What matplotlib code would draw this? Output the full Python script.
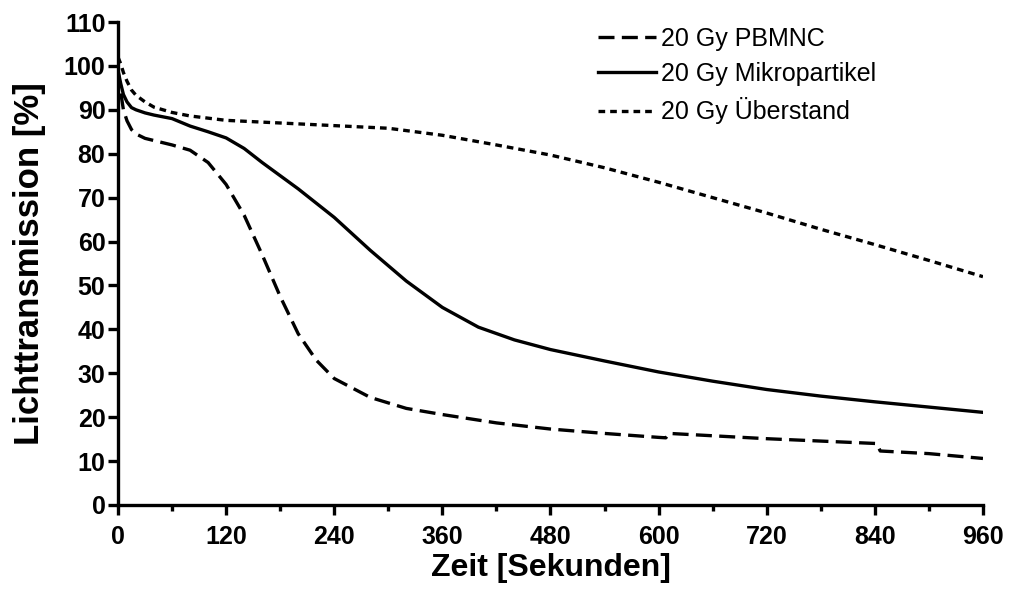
import numpy as np
import matplotlib
matplotlib.use("Agg")
import matplotlib.pyplot as plt
from matplotlib.ticker import MultipleLocator

plt.rcParams['font.family'] = ['Liberation Sans', 'DejaVu Sans']

# Zeit [s] und Lichttransmission [%]
t_pbmnc = [0, 3, 6, 10, 15, 20, 30, 40, 60, 80, 100, 120, 140, 160, 180, 200, 220, 240,
           280, 320, 360, 420, 480, 540, 600, 608, 612, 720, 842, 846, 900, 960]
y_pbmnc = [99, 94, 90, 87.5, 85.5, 84.5, 83.5, 83, 82, 80.8, 78, 73, 66, 57, 47.5, 39,
           33, 28.8, 24.5, 22, 20.6, 18.7, 17.3, 16.3, 15.4, 15.3, 16.3, 15.1, 14, 12.3, 11.7, 10.6]

t_mikro = [0, 3, 6, 10, 15, 20, 30, 40, 60, 80, 100, 120, 140, 160, 180, 200, 240,
           280, 320, 360, 400, 440, 480, 540, 600, 660, 720, 780, 840, 900, 960]
y_mikro = [99, 96, 93.5, 91.8, 90.5, 90, 89.3, 88.8, 88, 86.3, 85, 83.6, 81.2, 78, 75,
           72, 65.5, 58, 51, 45, 40.5, 37.6, 35.4, 32.8, 30.3, 28.2, 26.3, 24.8, 23.5, 22.3, 21.1]

t_ueber = [0, 3, 6, 10, 15, 20, 30, 40, 60, 80, 120, 180, 240, 300, 360, 420, 480, 540,
           600, 660, 720, 780, 840, 900, 960]
y_ueber = [102, 100.5, 98.5, 96.5, 94.5, 93.3, 91.8, 90.6, 89.4, 88.6, 87.6, 87, 86.4,
           85.8, 84.2, 82, 79.7, 76.8, 73.5, 70, 66.5, 62.8, 59.3, 55.7, 52]

fig = plt.figure(figsize=(10.12, 5.93), dpi=100)
ax = fig.add_axes([0.1166, 0.1484, 0.8547, 0.8145])

lw = 2.4
ax.plot(t_pbmnc, y_pbmnc, color='black', lw=lw, dashes=(4.8, 2.2), label='20 Gy PBMNC')
ax.plot(t_mikro, y_mikro, color='black', lw=lw, label='20 Gy Mikropartikel')
ax.plot(t_ueber, y_ueber, color='black', lw=lw, dashes=(2.0, 1.5), label='20 Gy Überstand')

ax.set_xlim(0, 960)
ax.set_ylim(0, 110)
ax.xaxis.set_major_locator(MultipleLocator(120))
ax.xaxis.set_minor_locator(MultipleLocator(60))
ax.yaxis.set_major_locator(MultipleLocator(10))

for s in ['top', 'right']:
    ax.spines[s].set_visible(False)
for s in ['left', 'bottom']:
    ax.spines[s].set_linewidth(lw)
ax.tick_params(which='major', length=7.5, width=lw, labelsize=18)
ax.tick_params(axis='x', which='major', pad=7)
ax.tick_params(axis='y', which='major', pad=1.5)
ax.tick_params(which='minor', length=4, width=lw)
for lab in ax.get_xticklabels() + ax.get_yticklabels():
    lab.set_fontweight('bold')

ax.set_xlabel('Zeit [Sekunden]', fontsize=23, fontweight='bold', labelpad=3)
ax.set_ylabel('Lichttransmission [%]', fontsize=25, fontweight='bold', labelpad=13)

ax.legend(loc='upper left', bbox_to_anchor=(0.555, 0.99), frameon=False, fontsize=18,
          handlelength=2.3, handletextpad=0.2, labelspacing=0.45,
          borderpad=0, borderaxespad=0)

fig.savefig('out.png', dpi=100)
